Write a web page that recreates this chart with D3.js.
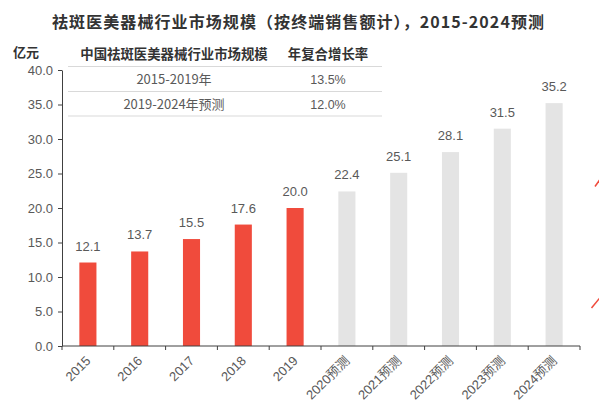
<!DOCTYPE html>
<html><head><meta charset="utf-8">
<script src="https://cdn.jsdelivr.net/npm/d3@7/dist/d3.min.js"></script>
<style>
body{margin:0;background:#fff;}
svg{display:block;}
</style></head>
<body>
<svg id="c" width="599" height="401"></svg>
<script>
const categories = ["2015","2016","2017","2018","2019","2020预测","2021预测","2022预测","2023预测","2024预测"];
const values = [12.1,13.7,15.5,17.6,20.0,22.4,25.1,28.1,31.5,35.2];
const isForecast = [false,false,false,false,false,true,true,true,true,true];
const yTicks = [0,5,10,15,20,25,30,35,40];
const tableHeader = ["中国祛斑医美器械行业市场规模","年复合增长率"];
const tablePeriods = ["2015-2019年","2019-2024年预测"];
const tableRates = ["13.5%","12.0%"];
const title = "祛斑医美器械行业市场规模（按终端销售额计），2015-2024预测";
const unit = "亿元";

const svg = d3.select("#c");
const cjk = "'Noto Sans CJK SC','Noto Sans',sans-serif";
const num = "'Liberation Sans Narrow','Liberation Sans','Noto Sans CJK SC',sans-serif";

const x = d3.scaleBand().domain(categories).range([62,580]).paddingInner(0.67).paddingOuter(0.335);
const xAxisScale = d3.scaleBand().domain(categories).range([62,580]);
const y = d3.scaleLinear().domain([0,40]).range([346,70]);

// title
svg.append("text").attr("x",52).attr("y",28)
  .attr("textLength",492).attr("lengthAdjust","spacing")
  .attr("font-family",cjk).attr("font-weight","bold").attr("font-size",16).attr("fill","#333")
  .text(title);

// unit
svg.append("text").attr("x",13).attr("y",57).attr("font-family",cjk).attr("font-weight","bold")
  .attr("font-size",13).attr("fill","#333").text(unit);

// bars
svg.append("g").selectAll("rect").data(values).join("rect")
  .attr("x",(d,i)=>x(categories[i]))
  .attr("width",x.bandwidth())
  .attr("y",d=>y(d))
  .attr("height",d=>y(0)-y(d))
  .attr("fill",(d,i)=>isForecast[i]?"#e4e4e4":"#f04b3c");

// value labels
svg.append("g").selectAll("text").data(values).join("text")
  .attr("x",(d,i)=>x(categories[i])+x.bandwidth()/2)
  .attr("y",d=>y(d)-12)
  .attr("text-anchor","middle")
  .attr("font-family",num).attr("font-size",13).attr("fill","#595959")
  .text(d=>d.toFixed(1));

// y axis
const yAxis = svg.append("g").attr("transform","translate(62,0)")
  .call(d3.axisLeft(y).tickValues(yTicks).tickFormat(d=>d.toFixed(1)).tickSize(4).tickSizeOuter(0));
yAxis.select(".domain").attr("stroke","#404040");
yAxis.selectAll(".tick line").attr("stroke","#404040");
yAxis.selectAll(".tick text").attr("font-family",num).attr("font-size",13).attr("fill","#595959").attr("x",-9);

// x axis
const xg = svg.append("g").attr("transform","translate(0,346)");
xg.append("line").attr("x1",62).attr("x2",580).attr("y1",0).attr("y2",0).attr("stroke","#404040");
const bounds = categories.map(c=>xAxisScale(c)).concat([580]);
xg.selectAll("line.t").data(bounds).join("line").attr("class","t")
  .attr("x1",d=>d).attr("x2",d=>d).attr("y1",0).attr("y2",4).attr("stroke","#404040");
xg.selectAll("text").data(categories).join("text")
  .attr("transform",c=>`translate(${xAxisScale(c)+xAxisScale.bandwidth()/2-3},${9}) rotate(-45)`)
  .attr("text-anchor","end").attr("dy","0.71em")
  .attr("font-family",num).attr("font-size",13).attr("fill","#595959")
  .text(c=>c);

// table
const tbl = svg.append("g");
[66.5,91.5,116].forEach(ly=>tbl.append("line").attr("x1",68).attr("x2",382).attr("y1",ly).attr("y2",ly)
  .attr("stroke","#d9d9d9").attr("stroke-width",1));
const col1 = 174, col2 = 328;
tbl.append("text").attr("x",col1).attr("y",59).attr("text-anchor","middle").attr("font-family",cjk)
  .attr("font-weight","bold").attr("font-size",13.4).attr("fill","#333").text(tableHeader[0]);
tbl.append("text").attr("x",col2).attr("y",59).attr("text-anchor","middle").attr("font-family",cjk)
  .attr("font-weight","bold").attr("font-size",13.4).attr("fill","#333").text(tableHeader[1]);
tablePeriods.forEach((p,i)=>{
  tbl.append("text").attr("x",col1).attr("y",84+i*25).attr("text-anchor","middle").attr("font-family",cjk)
    .attr("font-size",13).attr("fill","#595959").text(p);
  tbl.append("text").attr("x",col2).attr("y",84+i*25).attr("text-anchor","middle").attr("font-family",num)
    .attr("font-size",12.5).attr("fill","#595959").text(tableRates[i]);
});

// clipped red strokes at right edge
svg.append("line").attr("x1",595).attr("y1",186.5).attr("x2",601).attr("y2",178).attr("stroke","#f04b3c").attr("stroke-width",1.5);
svg.append("line").attr("x1",591.5).attr("y1",308).attr("x2",601).attr("y2",296.5).attr("stroke","#f04b3c").attr("stroke-width",1.5);
</script>
</body></html>
